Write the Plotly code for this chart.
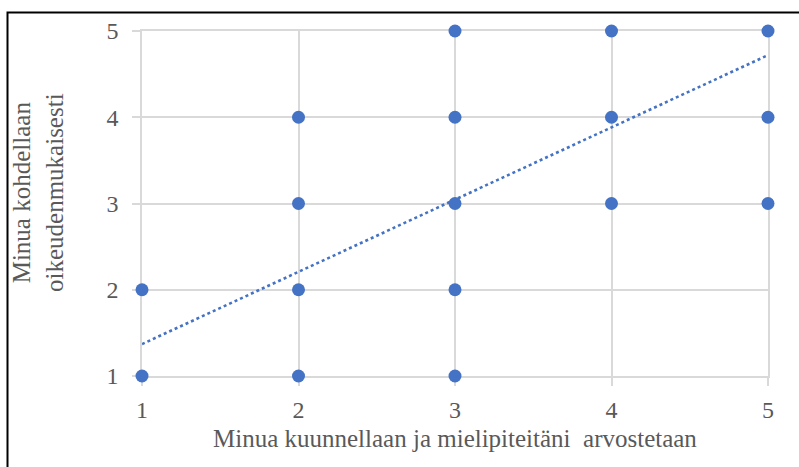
import plotly.graph_objects as go

# Survey responses (1-5 Likert scale)
listened_scores = [1, 1, 2, 2, 2, 2, 3, 3, 3, 3, 3, 4, 4, 4, 5, 5, 5]
fairness_scores = [1, 2, 1, 2, 3, 4, 1, 2, 3, 4, 5, 3, 4, 5, 3, 4, 5]

# Linear trendline endpoints
trend_x = [1, 5]
trend_y = [1.37, 4.72]

tick_vals = [1, 2, 3, 4, 5]
tick_text = ["1", "2", "3", "4", "5"]

x_title = "Minua kuunnellaan ja mielipiteitäni  arvostetaan"
y_title = "Minua kohdellaan<br>oikeudenmukaisesti"

blue = "#4472C4"
grid = "#D9D9D9"
text_gray = "#595959"
serif = "Liberation Serif, Times New Roman, serif"

W, H = 799, 467
L, R, T, B = 142, 31, 31, 91
pw, ph = W - L - R, H - T - B

fig = go.Figure()

fig.add_trace(go.Scatter(
    x=trend_x, y=trend_y, mode="lines",
    line=dict(color=blue, width=2.6, dash="dot"),
    hoverinfo="skip", showlegend=False,
))

fig.add_trace(go.Scatter(
    x=listened_scores, y=fairness_scores, mode="markers",
    marker=dict(color=blue, size=13),
    cliponaxis=False, showlegend=False,
))

axis_common = dict(
    range=[1, 5], tickvals=tick_vals, ticktext=tick_text,
    showgrid=True, gridcolor=grid, gridwidth=1.5,
    showline=True, linecolor=grid, linewidth=1.5, mirror=True,
    ticks="outside", ticklen=8, tickcolor=grid, tickwidth=1.5,
    tickfont=dict(family=serif, size=24, color=text_gray),
    zeroline=False, fixedrange=True, layer="below traces",
)

fig.update_xaxes(**axis_common, ticklabelstandoff=3)
fig.update_yaxes(**axis_common, ticklabelstandoff=9)

def px_x(px):
    return (px - L) / pw

def px_y(py):
    return (H - B - py) / ph

fig.add_annotation(
    text=x_title, xref="paper", yref="paper",
    x=px_x(455), y=px_y(438), xanchor="center", yanchor="middle",
    showarrow=False, font=dict(family=serif, size=25, color=text_gray),
)
fig.add_annotation(
    text=y_title, xref="paper", yref="paper",
    x=px_x(38), y=px_y(193), xanchor="center", yanchor="middle",
    textangle=-90, showarrow=False,
    font=dict(family=serif, size=25, color=text_gray),
)

# Outer frame
fig.add_shape(
    type="rect", xref="paper", yref="paper",
    x0=px_x(7.5), x1=px_x(810), y0=px_y(480), y1=px_y(12.5),
    line=dict(color="black", width=2), fillcolor="rgba(0,0,0,0)", layer="above",
)

fig.update_layout(
    width=W, height=H,
    margin=dict(l=L, r=R, t=T, b=B),
    paper_bgcolor="white", plot_bgcolor="white",
    showlegend=False,
)

fig.write_html("out.html", config={"displayModeBar": False})
